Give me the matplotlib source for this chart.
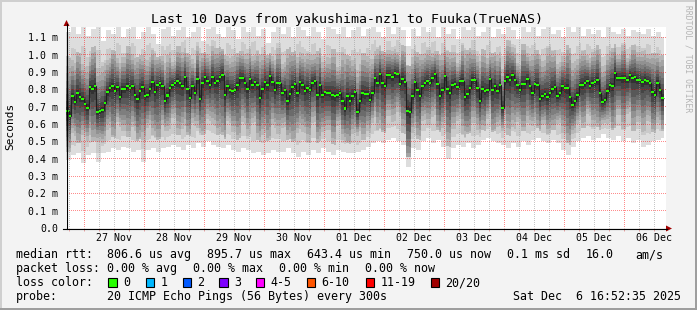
import numpy as np
import matplotlib
matplotlib.use('Agg')
import matplotlib.pyplot as plt
import matplotlib.dates as mdates
from matplotlib.patches import Rectangle, Polygon
from matplotlib.transforms import IdentityTransform
from datetime import datetime, timedelta

W, H = 697, 310
plt.rcParams['font.family'] = 'DejaVu Sans Mono'

title = 'Last 10 Days from yakushima-nz1 to Fuuka(TrueNAS)'
first_bin = datetime(2025, 11, 26, 17)          # hourly consolidated steps
view_start = datetime(2025, 11, 26, 16, 52, 35)
view_end = datetime(2025, 12, 6, 16, 52, 35)

# median rtt per hour, in ms
median = [
    0.673, 0.644, 0.763, 0.727, 0.779, 0.758, 0.746, 0.716, 0.694, 0.814,
    0.804, 0.819, 0.669, 0.675, 0.681, 0.721, 0.785, 0.810, 0.818, 0.792,
    0.812, 0.758, 0.804, 0.804, 0.819, 0.808, 0.819, 0.769, 0.746, 0.792,
    0.814, 0.763, 0.769, 0.804, 0.842, 0.785, 0.823, 0.838, 0.819, 0.733,
    0.765, 0.808, 0.827, 0.838, 0.848, 0.838, 0.818, 0.871, 0.804, 0.752,
    0.819, 0.781, 0.862, 0.746, 0.838, 0.871, 0.848, 0.823, 0.871, 0.838,
    0.848, 0.873, 0.885, 0.769, 0.819, 0.796, 0.791, 0.796, 0.827, 0.867,
    0.867, 0.839, 0.804, 0.862, 0.827, 0.842, 0.827, 0.750, 0.804, 0.842,
    0.827, 0.877, 0.842, 0.796, 0.837, 0.837, 0.779, 0.796, 0.733, 0.773,
    0.814, 0.831, 0.779, 0.842, 0.827, 0.792, 0.808, 0.796, 0.839, 0.848,
    0.766, 0.827, 0.769, 0.785, 0.781, 0.779, 0.766, 0.762, 0.769, 0.779,
    0.733, 0.689, 0.762, 0.733, 0.762, 0.785, 0.669, 0.733, 0.779, 0.773,
    0.775, 0.739, 0.781, 0.867, 0.839, 0.889, 0.839, 0.819, 0.885, 0.885,
    0.873, 0.894, 0.887, 0.831, 0.862, 0.842, 0.677, 0.669, 0.762, 0.842,
    0.796, 0.762, 0.819, 0.839, 0.848, 0.839, 0.866, 0.889, 0.831, 0.760,
    0.796, 0.877, 0.804, 0.779, 0.827, 0.831, 0.814, 0.848, 0.848, 0.758,
    0.773, 0.808, 0.856, 0.856, 0.808, 0.733, 0.804, 0.791, 0.796, 0.862,
    0.796, 0.819, 0.792, 0.825, 0.692, 0.848, 0.871, 0.854, 0.881, 0.854,
    0.823, 0.796, 0.831, 0.831, 0.862, 0.819, 0.781, 0.831, 0.827, 0.746,
    0.762, 0.773, 0.756, 0.779, 0.804, 0.814, 0.762, 0.781, 0.819, 0.808,
    0.808, 0.758, 0.712, 0.733, 0.766, 0.827, 0.827, 0.839, 0.848, 0.819,
    0.839, 0.842, 0.856, 0.781, 0.727, 0.739, 0.791, 0.827, 0.819, 0.894,
    0.867, 0.867, 0.867, 0.867, 0.856, 0.885, 0.867, 0.871, 0.856, 0.856,
    0.842, 0.856, 0.848, 0.839, 0.785, 0.769, 0.839, 0.796, 0.752,
]

# slowest / fastest ping, 2-hour bins, in ms
smoke_hi = [
    1.13, 1.16, 1.12, 1.18, 1.11, 1.15, 1.18, 1.08, 1.14, 1.12,
    1.18, 1.10, 1.15, 1.17, 1.09, 1.13, 1.18, 1.12, 1.06, 1.15,
    1.17, 1.11, 1.14, 1.18, 1.10, 1.13, 1.16, 1.08, 1.15, 1.18,
    1.12, 1.10, 1.17, 1.14, 1.09, 1.16, 1.13, 1.18, 1.11, 1.15,
    1.07, 1.13, 1.17, 1.12, 1.16, 1.10, 1.18, 1.14, 1.11, 1.16,
    1.13, 1.09, 1.17, 1.15, 1.12, 1.18, 1.10, 1.14, 1.16, 1.11,
    1.15, 1.18, 1.13, 1.10, 1.16, 1.12, 1.17, 1.14, 1.05, 1.15,
    1.11, 1.17, 1.13, 1.16, 1.10, 1.18, 1.12, 1.15, 1.09, 1.16,
    1.14, 1.18, 1.11, 1.13, 1.17, 1.10, 1.15, 1.12, 1.18, 1.14,
    1.09, 1.16, 1.13, 1.17, 1.11, 1.15, 1.18, 1.12, 1.14, 1.10,
    1.16, 1.13, 1.17, 1.11, 1.15, 1.12, 1.14, 1.10, 1.16, 1.13,
    1.12, 1.15, 1.11, 1.14, 1.13, 1.12, 1.15, 1.11, 1.13, 1.10,
]
smoke_lo = [
    0.39, 0.42, 0.43, 0.375, 0.42, 0.43, 0.38, 0.43, 0.44, 0.46,
    0.45, 0.47, 0.46, 0.44, 0.45, 0.38, 0.45, 0.46, 0.44, 0.46,
    0.47, 0.48, 0.47, 0.45, 0.48, 0.46, 0.49, 0.47, 0.50, 0.48,
    0.47, 0.46, 0.48, 0.45, 0.44, 0.46, 0.45, 0.43, 0.44, 0.42,
    0.43, 0.45, 0.44, 0.44, 0.46, 0.43, 0.41, 0.44, 0.42, 0.45,
    0.43, 0.46, 0.44, 0.42, 0.45, 0.44, 0.43, 0.43, 0.44, 0.45,
    0.47, 0.49, 0.50, 0.49, 0.51, 0.52, 0.50, 0.48, 0.35, 0.46,
    0.45, 0.50, 0.52, 0.49, 0.51, 0.47, 0.40, 0.46, 0.48, 0.47,
    0.49, 0.46, 0.48, 0.51, 0.52, 0.50, 0.49, 0.48, 0.46, 0.49,
    0.47, 0.50, 0.48, 0.51, 0.52, 0.50, 0.49, 0.51, 0.49, 0.45,
    0.42, 0.47, 0.50, 0.52, 0.53, 0.51, 0.52, 0.54, 0.52, 0.51,
    0.53, 0.50, 0.52, 0.49, 0.51, 0.47, 0.48, 0.50, 0.51, 0.52,
]
# how wide the dark core of the smoke looks in each 2-hour bin (1 = typical)
smoke_core = [
    1.20, 0.90, 1.30, 0.80, 1.00, 1.25, 0.85, 1.10, 0.90, 1.30,
    0.80, 1.05, 1.20, 0.90, 1.30, 1.00, 0.85, 1.15, 1.30, 0.90,
    1.00, 0.80, 1.20, 0.95, 1.30, 0.85, 1.10, 1.25, 0.90, 1.00,
    1.20, 1.30, 0.85, 1.00, 1.25, 0.90, 1.10, 0.80, 1.20, 1.00,
    1.30, 0.90, 1.05, 0.85, 1.20, 1.30, 0.90, 1.00, 1.15, 0.85,
    1.25, 1.00, 0.90, 1.20, 0.80, 1.10, 1.30, 0.95, 0.85, 1.20,
    1.00, 0.85, 1.15, 1.30, 0.90, 1.05, 0.80, 1.20, 1.45, 1.00,
    1.25, 0.90, 1.10, 0.85, 1.30, 0.95, 1.20, 1.00, 0.85, 1.15,
    1.30, 0.90, 1.05, 1.20, 0.85, 1.30, 1.00, 0.90, 1.20, 1.10,
    0.85, 1.25, 0.95, 1.00, 1.30, 0.90, 1.15, 1.20, 0.85, 1.05,
    1.30, 1.00, 0.90, 1.20, 0.85, 1.10, 1.25, 0.95, 1.00, 1.30,
    0.90, 1.15, 0.85, 1.20, 1.00, 1.10, 0.90, 1.25, 1.00, 1.30,
]
# where the ranked pings sit between median and the extremes (outer band first)
spread_up = [1.0, 0.70, 0.58, 0.48, 0.40, 0.32, 0.25, 0.18, 0.11, 0.045]
spread_low = [1.0, 0.82, 0.70, 0.60, 0.51, 0.43, 0.34, 0.25, 0.16, 0.07]

day_labels = ['27 Nov', '28 Nov', '29 Nov', '30 Nov', '01 Dec',
              '02 Dec', '03 Dec', '04 Dec', '05 Dec', '06 Dec']
y_ticks = [0.0, 0.1, 0.2, 0.3, 0.4, 0.5, 0.6, 0.7, 0.8, 0.9, 1.0, 1.1]
y_labels = ['0.0', '0.1 m', '0.2 m', '0.3 m', '0.4 m', '0.5 m', '0.6 m',
            '0.7 m', '0.8 m', '0.9 m', '1.0 m', '1.1 m']

loss_labels = ['0', '1', '2', '3', '4-5', '6-10', '11-19', '20/20']
loss_colors = ['#26ff00', '#00b8ff', '#0059ff', '#7e00ff',
               '#ff00ff', '#ff5500', '#ff0000', '#a10000']

stats_rtt = ['806.6 us avg', '895.7 us max', '643.4 us min', '750.0 us now',
             '0.1 ms sd', '16.0', 'am/s']
stats_loss = ['0.00 % avg', '0.00 % max', '0.00 % min', '0.00 % now']
probe_text = '20 ICMP Echo Pings (56 Bytes) every 300s'
stamp = 'Sat Dec  6 16:52:35 2025'

# ---------------------------------------------------------------
med = np.array(median)
n = len(med)
hi = np.repeat(smoke_hi, 2)[:n]
lo = np.repeat(smoke_lo, 2)[:n]
core = np.repeat(smoke_core, 2)[:n]
edges = mdates.date2num(first_bin) + np.arange(n + 1) / 24.0
ymax = 201 / 173.3
AX_L, AX_T, AX_W, AX_H = 66, 27, 600, 201     # plot area in pixels
AX_B = H - AX_T - AX_H                         # bottom, in display pixels


def fx(x):
    return x / W


def fy(y):
    return 1 - y / H


fig = plt.figure(figsize=(W / 100, H / 100), dpi=100, facecolor='#f3f3f3')
ax = fig.add_axes([fx(AX_L), AX_B / H, AX_W / W, AX_H / H])
ax.set_facecolor('white')

# smoke: outer (light) band first, inner (dark) on top
for i in range(10):
    g = 221 - 19 * i
    fu = spread_up[i] if i < 2 else np.minimum(spread_up[i] * core, spread_up[1])
    fl = spread_low[i] if i < 2 else np.minimum(spread_low[i] * core, spread_low[1])
    top = med + (hi - med) * fu
    bot = med - (med - lo) * fl
    ax.stairs(top, edges, baseline=bot, fill=True,
              color='#%02x%02x%02x' % (g, g, g), lw=0, zorder=1)

# median line and loss-coloured markers
ax.stairs(med, edges, baseline=None, color='#202020', lw=0.8, zorder=4)
sw = 1.1 / 173.3
ax.stairs(med + sw, edges, baseline=med - sw, fill=True,
          color=loss_colors[0], lw=0, zorder=5)

x0, x1 = mdates.date2num(view_start), mdates.date2num(view_end)

days = [datetime(2025, 11, 27) + timedelta(days=d) for d in range(10)]
quarters = [datetime(2025, 11, 26, 18) + timedelta(hours=6 * k) for k in range(41)]
quarters = [q for q in quarters if q.hour != 0 and q < view_end]


# dotted rrdtool-style grid: single pixels, one on / one off
def col_px(t):
    return AX_L + int((mdates.date2num(t) - x0) / (x1 - x0) * AX_W) + 0.5


def row_px(v):
    return AX_B + int(v / ymax * AX_H) + 0.5


rows = AX_B + np.arange(1, AX_H, 2) + 0.5
cols = AX_L + np.arange(0, AX_W, 2) + 0.5
pix = IdentityTransform()
for q in quarters:
    ax.plot(np.full(rows.size, col_px(q)), rows, ',', color='#9a9a9a', alpha=0.55,
            transform=pix, zorder=2.5, clip_on=False)
for d in days:
    ax.plot(np.full(rows.size, col_px(d)), rows, ',', color='#ff0000', alpha=0.45,
            transform=pix, zorder=2.5, clip_on=False)
for v in y_ticks[1:]:
    ax.plot(cols, np.full(cols.size, row_px(v)), ',', color='#ff0000', alpha=0.45,
            transform=pix, zorder=2.5, clip_on=False)

ax.set_xlim(x0, x1)
ax.set_ylim(0, ymax)
ax.set_xticks(mdates.date2num(days))
ax.set_xticks(mdates.date2num(quarters), minor=True)
ax.set_yticks(y_ticks, labels=y_labels)
ax.tick_params(axis='x', which='both', labelbottom=False, length=2,
               direction='out', color='#e8a0a0', width=0.7)
ax.tick_params(axis='y', length=0, pad=5.5, labelsize=7.1)
for s in ax.spines.values():
    s.set_visible(False)

for d, lab in zip(days, day_labels):
    ax.text(mdates.date2num(d) + 0.5, -10 / 201, lab, transform=ax.get_xaxis_transform(),
            ha='center', va='center', fontsize=7.1)

# axes lines and arrows
fig.add_artist(plt.Line2D([fx(66.5), fx(66.5)], [fy(229), fy(24)], color='black', lw=0.8))
fig.add_artist(plt.Line2D([fx(63), fx(667)], [fy(228.5), fy(228.5)], color='black', lw=0.8))
fig.add_artist(Polygon([(fx(63.5), fy(26)), (fx(69.5), fy(26)), (fx(66.5), fy(20))],
                       closed=True, color='#a00000', lw=0))
fig.add_artist(Polygon([(fx(666), fy(225.5)), (fx(666), fy(231.5)), (fx(672), fy(228.5))],
                       closed=True, color='#a00000', lw=0))

# titles
fig.text(fx(347), fy(19), title, ha='center', va='center', fontsize=9.5)
fig.text(fx(10), fy(126), 'Seconds', rotation=90, ha='center', va='center', fontsize=8)
fig.text(fx(688), fy(5), 'RRDTOOL / TOBI OETIKER', rotation=270, ha='center', va='top',
         fontsize=5.8, color='#b4b4b4')

# legend block
fs = 8.4
y1, y2, y3, y4 = 254.5, 268.5, 282.5, 296.5
fig.text(fx(16), fy(y1), 'median rtt:', va='center', fontsize=fs)
for x, s in zip([107.3, 207.3, 306.7, 407.3, 506.7, 586, 635], stats_rtt):
    fig.text(fx(x), fy(y1), s, va='center', fontsize=fs)
fig.text(fx(16), fy(y2), 'packet loss:', va='center', fontsize=fs)
for x, s in zip([107.3, 193.3, 279.3, 365], stats_loss):
    fig.text(fx(x), fy(y2), s, va='center', fontsize=fs)
fig.text(fx(16), fy(y3), 'loss color:', va='center', fontsize=fs)
box_x = [108.3, 145.7, 182.7, 219.3, 256, 306.7, 365.7, 430.7]
for bx, lab, col in zip(box_x, loss_labels, loss_colors):
    fig.add_artist(Rectangle((fx(bx), fy(286.7)), 8.3 / W, 8.3 / H,
                             facecolor=col, edgecolor='black', lw=0.8))
    fig.text(fx(bx + 14.5), fy(y3), lab, va='center', fontsize=fs)
fig.text(fx(16), fy(y4), 'probe:', va='center', fontsize=fs)
fig.text(fx(107.3), fy(y4), probe_text, va='center', fontsize=fs)
fig.text(fx(513.3), fy(y4), stamp, va='center', fontsize=fs)

# frame
fig.add_artist(Rectangle((0, fy(2)), 1, 2 / H, color='#cfcfcf', lw=0))
fig.add_artist(Rectangle((0, 0), 2 / W, 1, color='#cfcfcf', lw=0))
fig.add_artist(Rectangle((fx(694.5), 0), 2.5 / W, 1, color='#9e9e9e', lw=0))
fig.add_artist(Rectangle((0, 0), 1, 2.5 / H, color='#9e9e9e', lw=0))

fig.savefig('out.png', dpi=100, facecolor=fig.get_facecolor())
